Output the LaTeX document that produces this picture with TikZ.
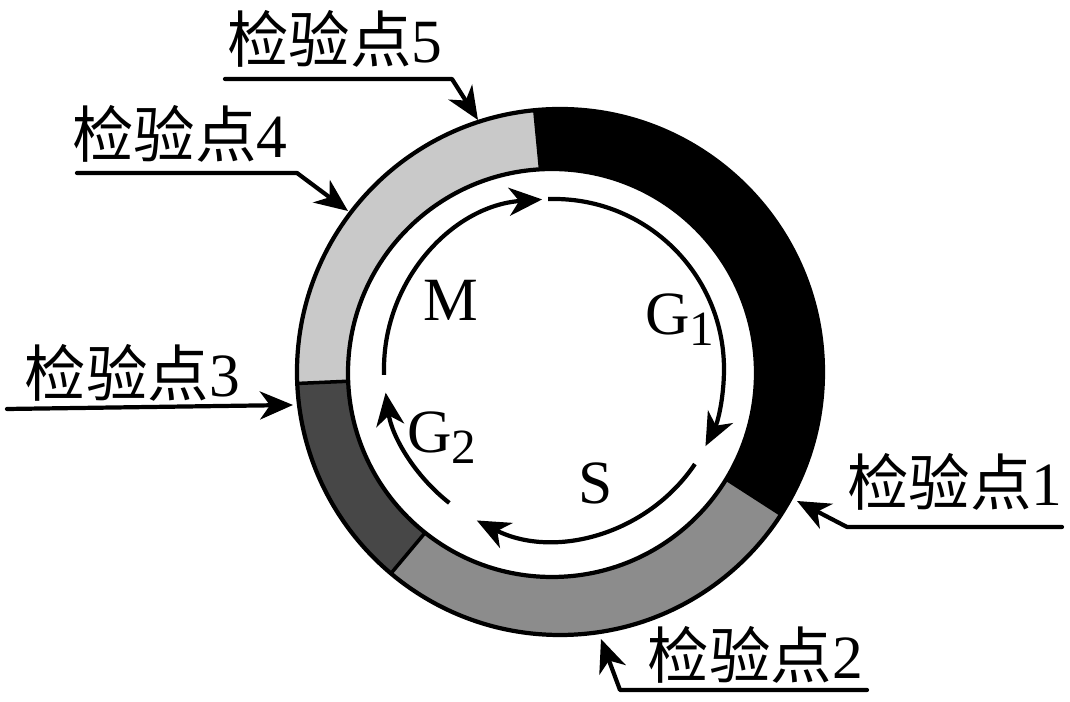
\documentclass[tikz,border=0pt]{standalone}
\usepackage{fontspec}
\setmainfont{Liberation Serif}
\newfontfamily\cjk{Noto Sans CJK SC}
\usepackage{tikz}
\usetikzlibrary{arrows.meta}
\definecolor{mlight}{gray}{0.79}
\definecolor{mmid}{gray}{0.55}
\definecolor{mdark}{gray}{0.28}
\newcommand\phsub[1]{\raisebox{-3.2pt}{\fontsize{14}{16}\selectfont #1}}

\begin{document}
\begin{tikzpicture}[
  ring/.style={line width=1.2pt},
  phase/.style={line width=1.2pt,-{Stealth[length=3.3mm,width=2.8mm,inset=1mm]}},
  leader/.style={line width=1.2pt,line cap=round,line join=round,-{Stealth[length=3.3mm,width=2.8mm,inset=1mm]}},
  lab/.style={font=\fontsize{17.5}{20}\selectfont,inner sep=0pt}]
  \useasboundingbox (-5.60,-3.30) rectangle (5.10,3.72);
  \coordinate (O) at (0,0);
  \coordinate (I) at (-0.08,-0.01);
  \coordinate (P) at (-0.06,0.03);
  % ring
  \fill[black] (O) -- (-32.8:2.63) arc[start angle=-32.8,end angle=95.5,radius=2.63] -- cycle;
  \fill[mlight] (O) -- (95.5:2.63) arc[start angle=95.5,end angle=182.5,radius=2.63] -- cycle;
  \fill[mdark] (O) -- (182.5:2.63) arc[start angle=182.5,end angle=230,radius=2.63] -- cycle;
  \fill[mmid] (O) -- (230:2.63) arc[start angle=230,end angle=327.2,radius=2.63] -- cycle;
  \foreach \a in {95.5,182.5,230,327.2}
    \draw[line width=1pt] (O) -- (\a:2.63);
  \fill[white] (I) circle (2.04);
  \draw[ring] (O) circle (2.63);
  \draw[ring] (I) circle (2.04);
  % phases
  \begin{scope}[shift={(P)}]
    \draw[phase] (92:1.7) arc[start angle=92,end angle=-27,radius=1.7];
    \draw[phase] (-34:1.7) arc[start angle=-34,end angle=-117,radius=1.7];
    \draw[phase] (-128:1.7) arc[start angle=-128,end angle=-172,radius=1.7];
    \draw[phase] (182:1.7) arc[start angle=182,end angle=94,radius=1.7];
  \end{scope}
  \node[lab] (G1) at (1.20,0.52) {G\phsub{1}};
  \node[lab] (S) at (0.36,-1.11) {S};
  \node[lab] (G2) at (-1.18,-0.66) {G\phsub{2}};
  \node[lab] (M) at (-1.09,0.72) {M};
  % checkpoints
  \node[lab] (c1) at (3.95,-1.095) {{\cjk 检验点}1};
  \node[lab] (c2) at (1.955,-2.825) {{\cjk 检验点}2};
  \node[lab] (c3) at (-4.275,-0.005) {{\cjk 检验点}3};
  \node[lab] (c4) at (-3.80,2.385) {{\cjk 检验点}4};
  \node[lab] (c5) at (-2.25,3.33) {{\cjk 检验点}5};
  \coordinate (c1a) at (5.02,-1.55);
  \coordinate (c1b) at (2.87,-1.55);
  \coordinate (c1t) at (2.37,-1.29);
  \coordinate (c2a) at (3.07,-3.18);
  \coordinate (c2b) at (0.60,-3.18);
  \coordinate (c2t) at (0.41,-2.67);
  \coordinate (c3a) at (-5.53,-0.37);
  \coordinate (c3t) at (-2.67,-0.33);
  \coordinate (c4a) at (-4.83,1.99);
  \coordinate (c4b) at (-2.63,1.99);
  \coordinate (c4t) at (-2.12,1.61);
  \coordinate (c5a) at (-3.35,2.93);
  \coordinate (c5b) at (-1.08,2.93);
  \coordinate (c5t) at (-0.82,2.52);
  \draw[leader] (c1a) -- (c1b) -- (c1t);
  \draw[leader] (c2a) -- (c2b) -- (c2t);
  \draw[leader] (c3a) -- (c3t);
  \draw[leader] (c4a) -- (c4b) -- (c4t);
  \draw[leader] (c5a) -- (c5b) -- (c5t);
\end{tikzpicture}
\end{document}
